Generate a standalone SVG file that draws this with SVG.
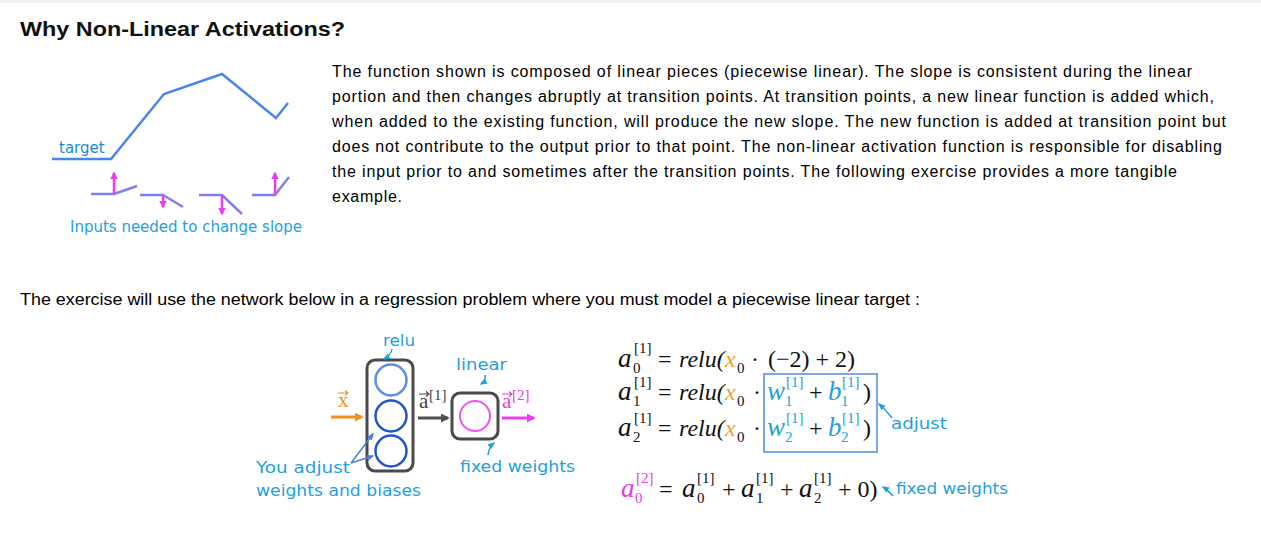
<svg xmlns="http://www.w3.org/2000/svg" width="1261" height="547" viewBox="0 0 1261 547">
<defs>
<style>
.body{font-family:"Liberation Sans",Arial,sans-serif;font-size:16px;fill:#000}
.hand{font-family:"DejaVu Sans","Noto Sans",sans-serif;font-size:16px;fill:#1e9fe0}
.lbl{font-family:"DejaVu Sans","Noto Sans",sans-serif;font-size:15px;fill:#1e9fe0}
.m{font-family:"Liberation Serif","Times New Roman",serif;font-size:24px;fill:#111}
.mi{font-family:"Liberation Serif","Times New Roman",serif;font-size:24px;font-style:italic;fill:#111}
.ma{font-family:"Liberation Serif","Times New Roman",serif;font-size:27px;font-style:italic;fill:#111}
.ms{font-family:"Liberation Serif","Times New Roman",serif;font-size:15px;fill:#111}
.blue{fill:#1ea0e0}
.org{fill:#f0a020}
.mag{fill:#e040e0}
.inp{fill:none;stroke:#8080ee;stroke-width:2.5}
</style>
<marker id="hMag" viewBox="0 0 10 10" refX="8" refY="5" markerWidth="3" markerHeight="3" orient="auto"><path d="M0,0 L10,5 L0,10 z" fill="#f03cf0"/></marker>
<marker id="hOrg" viewBox="0 0 10 10" refX="8" refY="5" markerWidth="3" markerHeight="3" orient="auto"><path d="M0,0 L10,5 L0,10 z" fill="#f5901e"/></marker>
<marker id="hGray" viewBox="0 0 10 10" refX="8" refY="5" markerWidth="3" markerHeight="3" orient="auto"><path d="M0,0 L10,5 L0,10 z" fill="#505050"/></marker>
<marker id="hBlue" viewBox="0 0 10 10" refX="8" refY="5" markerWidth="5" markerHeight="5" orient="auto"><path d="M0,1 L10,5 L0,9 z" fill="#4a80e0"/></marker>
<marker id="hSky" viewBox="0 0 10 10" refX="8" refY="5" markerWidth="5" markerHeight="5" orient="auto"><path d="M0,1 L10,5 L0,9 z" fill="#1e9fe0"/></marker>
</defs>
<rect width="1261" height="547" fill="#fff"/>
<rect width="1261" height="3" fill="#f2f2f2"/>

<text x="20" y="36" font-family="Liberation Sans, Arial, sans-serif" font-size="21" font-weight="bold" fill="#111" textLength="325" lengthAdjust="spacingAndGlyphs">Why Non-Linear Activations?</text>

<g id="target-plot">
<polyline points="52,159 111,159 164,94 222,74 276,118 288,103" fill="none" stroke="#4a86e8" stroke-width="2.5"/>
<text x="59" y="153" class="lbl" style="fill:#1a8ad8">target</text>
</g>
<g id="inputs">
<polyline class="inp" points="91,194 114,194 137,186"/>
<polyline class="inp" points="140,195 163,195 183,207"/>
<polyline class="inp" points="199,195 222,195 242,214"/>
<polyline class="inp" points="252,195 275,195 289,177"/>
<line x1="114" y1="194" x2="114" y2="173" stroke="#f03cf0" stroke-width="2.5" marker-end="url(#hMag)"/>
<line x1="163" y1="195" x2="163" y2="207" stroke="#f03cf0" stroke-width="2.5" marker-end="url(#hMag)"/>
<line x1="222" y1="195" x2="222" y2="214" stroke="#f03cf0" stroke-width="2.5" marker-end="url(#hMag)"/>
<line x1="275" y1="195" x2="275" y2="173" stroke="#f03cf0" stroke-width="2.5" marker-end="url(#hMag)"/>
<text x="70" y="232" class="lbl" textLength="232">Inputs needed to change slope</text>
</g>

<g id="paragraph" class="body">
<text x="332" y="77" textLength="860">The function shown is composed of linear pieces (piecewise linear). The slope is consistent during the linear</text>
<text x="332" y="102" textLength="882">portion and then changes abruptly at transition points. At transition points, a new linear function is added which,</text>
<text x="332" y="127" textLength="894">when added to the existing function, will produce the new slope. The new function is added at transition point but</text>
<text x="332" y="152" textLength="890">does not contribute to the output prior to that point. The non-linear activation function is responsible for disabling</text>
<text x="332" y="177" textLength="845">the input prior to and sometimes after the transition points. The following exercise provides a more tangible</text>
<text x="332" y="202" textLength="70">example.</text>
</g>

<text x="20" y="305" class="body" textLength="900" lengthAdjust="spacingAndGlyphs">The exercise will use the network below in a regression problem where you must model a piecewise linear target :</text>

<g id="layer1">
<rect x="367" y="360" width="46" height="111" rx="8" fill="none" stroke="#4a4a4a" stroke-width="3"/>
<circle cx="391" cy="380" r="15.5" fill="none" stroke="#5b8ee6" stroke-width="2.5"/>
<circle cx="391" cy="416" r="15.5" fill="none" stroke="#2255cc" stroke-width="2.5"/>
<circle cx="391" cy="451" r="15.5" fill="none" stroke="#2255cc" stroke-width="2.5"/>
<text x="383" y="346" class="hand" textLength="32" lengthAdjust="spacingAndGlyphs">relu</text>
</g>
<g id="layer2">
<rect x="452" y="393" width="46" height="46" rx="8" fill="none" stroke="#4a4a4a" stroke-width="3"/>
<circle cx="475" cy="416" r="15" fill="none" stroke="#f050f0" stroke-width="2"/>
<text x="456" y="370" class="hand" textLength="51" lengthAdjust="spacingAndGlyphs">linear</text>
<text x="460" y="472" class="hand" textLength="115" lengthAdjust="spacingAndGlyphs">fixed weights</text>
</g>
<g id="labels-net">
<text x="338" y="407" font-family="Liberation Serif, serif" font-size="21" fill="#f5901e">x</text>
<path d="M338,393 h10 m-3,-2.5 l3,2.5 l-3,2.5" fill="none" stroke="#f5901e" stroke-width="1.2"/>
<text x="419" y="408" font-family="Liberation Serif, serif" font-size="21" fill="#444">a</text>
<path d="M419,394 h10 m-3,-2.5 l3,2.5 l-3,2.5" fill="none" stroke="#444" stroke-width="1.2"/>
<text x="429" y="400" font-family="Liberation Serif, serif" font-size="15" fill="#444">[1]</text>
<text x="502" y="408" font-family="Liberation Serif, serif" font-size="21" fill="#e040e0">a</text>
<path d="M502,394 h10 m-3,-2.5 l3,2.5 l-3,2.5" fill="none" stroke="#e040e0" stroke-width="1.2"/>
<text x="512" y="400" font-family="Liberation Serif, serif" font-size="15" fill="#e040e0">[2]</text>
<text x="256" y="473" class="hand" textLength="94" lengthAdjust="spacingAndGlyphs">You adjust</text>
<text x="256" y="496" class="hand" textLength="165" lengthAdjust="spacingAndGlyphs">weights and biases</text>
</g>

<g id="connectors">
<line x1="331" y1="417" x2="362" y2="417" stroke="#f5901e" stroke-width="3" marker-end="url(#hOrg)"/>
<line x1="418" y1="418" x2="448" y2="418" stroke="#505050" stroke-width="3" marker-end="url(#hGray)"/>
<line x1="502" y1="418" x2="534" y2="418" stroke="#f03cf0" stroke-width="3" marker-end="url(#hMag)"/>
<line x1="351" y1="463" x2="373" y2="434" stroke="#4a80e0" stroke-width="1.5" marker-end="url(#hBlue)"/>
<line x1="351" y1="463" x2="373" y2="456" stroke="#4a80e0" stroke-width="1.5" marker-end="url(#hBlue)"/>
<path d="M392,349 Q391,355 384,359" fill="none" stroke="#1e9fe0" stroke-width="1.5" marker-end="url(#hSky)"/>
<path d="M485,375 Q486,381 481,384" fill="none" stroke="#1e9fe0" stroke-width="1.5" marker-end="url(#hSky)"/>
<path d="M488,455 Q489,447 494,443" fill="none" stroke="#1e9fe0" stroke-width="1.5" marker-end="url(#hSky)"/>
<path d="M892,418 Q886,410 879,404" fill="none" stroke="#1e9fe0" stroke-width="1.5" marker-end="url(#hSky)"/>
<path d="M893,496 Q888,490 883,487" fill="none" stroke="#1e9fe0" stroke-width="1.5" marker-end="url(#hSky)"/>
</g>

<g id="equations">
<!-- line 1 -->
<text x="618" y="367" class="ma">a</text>
<text x="634" y="353" class="ms">[1]</text>
<text x="633" y="373" class="ms">0</text>
<text x="658" y="367" class="m">=</text>
<text x="679" y="367" class="mi">relu(</text>
<text x="725" y="367" class="mi org">x</text>
<text x="737" y="373" class="ms">0</text>
<text x="751" y="367" class="m">·</text>
<text x="768" y="367" class="m">(−2) + 2)</text>
<!-- line 2 -->
<text x="618" y="400" class="ma">a</text>
<text x="634" y="387" class="ms">[1]</text>
<text x="633" y="406" class="ms">1</text>
<text x="658" y="400" class="m">=</text>
<text x="679" y="400" class="mi">relu(</text>
<text x="725" y="400" class="mi org">x</text>
<text x="737" y="406" class="ms">0</text>
<text x="753" y="400" class="m">·</text>
<text x="767" y="400" class="ma blue">w</text>
<text x="786" y="387" class="ms blue">[1]</text>
<text x="785" y="406" class="ms blue">1</text>
<text x="809" y="400" class="m">+</text>
<text x="828" y="400" class="ma blue">b</text>
<text x="842" y="387" class="ms blue">[1]</text>
<text x="841" y="406" class="ms blue">1</text>
<text x="863" y="400" class="m">)</text>
<!-- line 3 -->
<text x="618" y="436" class="ma">a</text>
<text x="634" y="423" class="ms">[1]</text>
<text x="633" y="442" class="ms">2</text>
<text x="658" y="436" class="m">=</text>
<text x="679" y="436" class="mi">relu(</text>
<text x="725" y="436" class="mi org">x</text>
<text x="737" y="442" class="ms">0</text>
<text x="753" y="436" class="m">·</text>
<text x="767" y="436" class="ma blue">w</text>
<text x="786" y="423" class="ms blue">[1]</text>
<text x="785" y="442" class="ms blue">2</text>
<text x="809" y="436" class="m">+</text>
<text x="828" y="436" class="ma blue">b</text>
<text x="842" y="423" class="ms blue">[1]</text>
<text x="841" y="442" class="ms blue">2</text>
<text x="863" y="436" class="m">)</text>
<rect x="764" y="374" width="113" height="78" fill="none" stroke="#7aa6ea" stroke-width="2"/>
<text x="891" y="429" class="hand" textLength="56" lengthAdjust="spacingAndGlyphs">adjust</text>
<!-- line 4 -->
<text x="621" y="497" class="ma mag">a</text>
<text x="636" y="483" class="ms mag">[2]</text>
<text x="635" y="503" class="ms mag">0</text>
<text x="659" y="497" class="m">=</text>
<text x="682" y="497" class="ma">a</text>
<text x="697" y="483" class="ms">[1]</text>
<text x="697" y="503" class="ms">0</text>
<text x="722" y="497" class="m">+</text>
<text x="741" y="497" class="ma">a</text>
<text x="756" y="483" class="ms">[1]</text>
<text x="756" y="503" class="ms">1</text>
<text x="780" y="497" class="m">+</text>
<text x="799" y="497" class="ma">a</text>
<text x="814" y="483" class="ms">[1]</text>
<text x="814" y="503" class="ms">2</text>
<text x="838" y="497" class="m">+ 0)</text>
<text x="896" y="494" class="hand" textLength="112" lengthAdjust="spacingAndGlyphs">fixed weights</text>
</g>
</svg>
